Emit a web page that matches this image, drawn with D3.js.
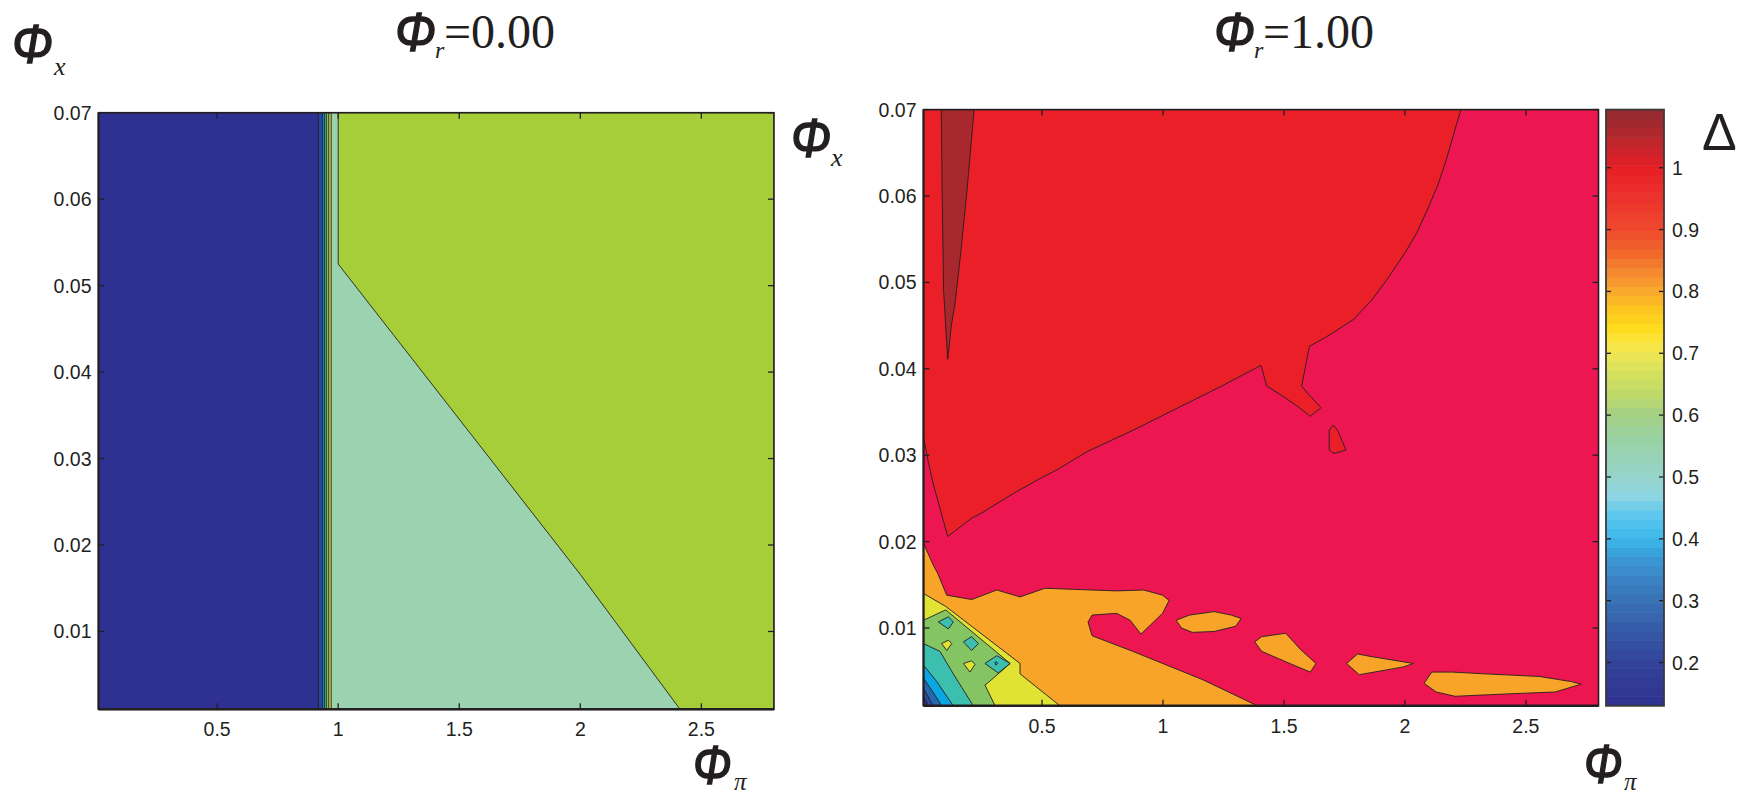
<!DOCTYPE html>
<html>
<head>
<meta charset="utf-8">
<script src="https://cdn.jsdelivr.net/npm/d3@7"></script>
<style>
  html, body { margin: 0; padding: 0; background: #fff; }
  svg { display: block; }
</style>
</head>
<body>
<svg id="chart" width="1749" height="796"></svg>
<script>
// ---- axes ----
const xDomain = [0.01, 2.8];          // phi_pi
const yDomain = [0.001, 0.07];        // phi_x
const xTickValues = [0.5, 1, 1.5, 2, 2.5];
const xTickLabels = ["0.5", "1", "1.5", "2", "2.5"];
const yTickValues = [0.01, 0.02, 0.03, 0.04, 0.05, 0.06, 0.07];
const yTickLabels = ["0.01", "0.02", "0.03", "0.04", "0.05", "0.06", "0.07"];

// ---- colour bar (Delta) ----
const cbarDomain = [0.13, 1.094];
const cbarBands = 64;
const cbarTickValues = [0.2, 0.3, 0.4, 0.5, 0.6, 0.7, 0.8, 0.9, 1];
const cbarTickLabels = ["0.2", "0.3", "0.4", "0.5", "0.6", "0.7", "0.8", "0.9", "1"];
const cmapValues = [0.13, 0.2, 0.25, 0.3, 0.33, 0.37, 0.4, 0.44, 0.47, 0.51, 0.56, 0.6, 0.63, 0.67, 0.7, 0.72, 0.74, 0.77, 0.8, 0.83, 0.86, 0.9, 0.96, 1.0, 1.03, 1.06, 1.094];
const cmapColors = ["#2e3190", "#33449a", "#3559a7", "#3972b6", "#3a80c1", "#3a99d5", "#3bb8ea", "#5ec7ee", "#8fd6e2", "#97d3c4", "#98d1a4", "#a3d084", "#bcd86b", "#d7e15c", "#efe655", "#fbe43a", "#fedc1e", "#fdc61e", "#f9a92c", "#f58a30", "#f2692b", "#ef4a2d", "#ec2e2c", "#e61e25", "#ca242b", "#aa282e", "#902a2e"];

// ---- Phi_r = 0.00 : Delta regions (phi_pi, phi_x) ----
const leftDeltas  = [0.15, 0.27, 0.40, 0.46, 0.56, 0.66, 0.52, 0.63];
const leftPalette = ["#2e3192", "#29449b", "#1aa7df", "#3cb7a9", "#7cc36a", "#cfd93a", "#9bd3b0", "#a6ce39"];
const leftRegions = [
  { delta: 0.15, pts: [[0.01, 0.001], [0.01, 0.07], [2.8, 0.07], [2.8, 0.001]] },
  { delta: 0.27, pts: [[0.918, 0.001], [0.918, 0.07], [2.8, 0.07], [2.8, 0.001]] },
  { delta: 0.40, pts: [[0.936, 0.001], [0.936, 0.07], [2.8, 0.07], [2.8, 0.001]] },
  { delta: 0.46, pts: [[0.943, 0.001], [0.943, 0.07], [2.8, 0.07], [2.8, 0.001]] },
  { delta: 0.56, pts: [[0.951, 0.001], [0.951, 0.07], [2.8, 0.07], [2.8, 0.001]] },
  { delta: 0.66, pts: [[0.961, 0.001], [0.961, 0.07], [2.8, 0.07], [2.8, 0.001]] },
  { delta: 0.52, pts: [[0.971, 0.001], [0.971, 0.07], [2.8, 0.07], [2.8, 0.001]] },
  { delta: 0.63, pts: [[1.0, 0.07], [2.8, 0.07], [2.8, 0.001], [2.412, 0.001], [2.0, 0.0166], [1.0, 0.0525]] }
];

// ---- Phi_r = 1.00 : Delta regions (phi_pi, phi_x), painted in order ----
const rightDeltas  = [0.17, 0.25, 0.35, 0.45, 0.52, 0.62, 0.71, 0.82, 0.95, 1.0, 1.07];
const rightPalette = ["#2e3192", "#2b4c9f", "#2767b0", "#0aa6e2", "#3dbfb0", "#85c462", "#e0e234", "#f7a428", "#ed1651", "#ea1f27", "#a8282e"];
const rightRegions = [
  { delta: 0.95, pts: [[0.01, 0.001], [0.01, 0.07], [2.8, 0.07], [2.8, 0.001]] },
  { delta: 1.0, pts: [[0.01, 0.0321], [0.03, 0.0292], [0.05, 0.0267], [0.11, 0.0206], [0.209, 0.0227], [0.25, 0.0233], [0.313, 0.0244], [0.395, 0.0258], [0.505, 0.0275], [0.561, 0.0283], [0.685, 0.0304], [0.877, 0.0329], [1.07, 0.0356], [1.249, 0.0381], [1.405, 0.0404], [1.429, 0.038], [1.497, 0.0368], [1.559, 0.0356], [1.608, 0.0345], [1.653, 0.0355], [1.597, 0.0372], [1.573, 0.038], [1.605, 0.0426], [1.663, 0.0435], [1.704, 0.0442], [1.787, 0.0457], [1.864, 0.0480], [1.93, 0.0505], [2.002, 0.0535], [2.05, 0.0558], [2.094, 0.0585], [2.135, 0.0612], [2.164, 0.0636], [2.195, 0.0665], [2.215, 0.0685], [2.232, 0.07], [0.01, 0.07]] },
  { delta: 1.07, pts: [[0.0836, 0.07], [0.087, 0.0607], [0.093, 0.0491], [0.11, 0.0411], [0.125, 0.045], [0.140, 0.0475], [0.165, 0.0537], [0.19, 0.0607], [0.219, 0.07]] },
  { delta: 1.0, pts: [[1.687, 0.0329], [1.704, 0.0335], [1.721, 0.0329], [1.756, 0.0306], [1.707, 0.0302], [1.687, 0.0306]] },
  { delta: 0.82, pts: [[0.01, 0.0198], [0.05, 0.0173], [0.069, 0.0163], [0.106, 0.0138], [0.209, 0.0133], [0.313, 0.0144], [0.409, 0.0136], [0.512, 0.0146], [0.808, 0.0143], [0.92, 0.0144], [0.998, 0.0138], [1.025, 0.0132], [0.998, 0.0117], [0.909, 0.0093], [0.864, 0.0109], [0.808, 0.0117], [0.707, 0.0115], [0.69, 0.0107], [0.707, 0.0091], [0.875, 0.0073], [1.166, 0.004], [1.39, 0.001], [0.01, 0.001]] },
  { delta: 0.82, pts: [[1.054, 0.0109], [1.11, 0.0115], [1.211, 0.0119], [1.282, 0.0115], [1.323, 0.0111], [1.30, 0.0102], [1.211, 0.0096], [1.121, 0.0095], [1.077, 0.010]] },
  { delta: 0.82, pts: [[1.379, 0.0084], [1.408, 0.009], [1.507, 0.0094], [1.569, 0.0075], [1.632, 0.0059], [1.609, 0.0049], [1.524, 0.0059], [1.408, 0.0073]] },
  { delta: 0.82, pts: [[1.759, 0.0059], [1.804, 0.007], [1.86, 0.0067], [2.035, 0.0059], [1.994, 0.0055], [1.811, 0.0046]] },
  { delta: 0.82, pts: [[2.079, 0.0036], [2.111, 0.0049], [2.196, 0.0049], [2.33, 0.0047], [2.554, 0.0044], [2.688, 0.0038], [2.728, 0.0035], [2.621, 0.0026], [2.442, 0.0024], [2.207, 0.0021], [2.129, 0.0026]] },
  { delta: 0.71, pts: [[0.01, 0.014], [0.102, 0.0125], [0.409, 0.0059], [0.409, 0.0047], [0.574, 0.001], [0.01, 0.001]] },
  { delta: 0.62, pts: [[0.01, 0.0109], [0.102, 0.0121], [0.368, 0.0059], [0.278, 0.0037], [0.264, 0.0034], [0.306, 0.001], [0.01, 0.001]] },
  { delta: 0.52, pts: [[0.071, 0.0107], [0.113, 0.0113], [0.133, 0.0107], [0.113, 0.0099]] },
  { delta: 0.52, pts: [[0.175, 0.0084], [0.209, 0.009], [0.237, 0.0082], [0.209, 0.0074]] },
  { delta: 0.52, pts: [[0.264, 0.0059], [0.313, 0.0068], [0.368, 0.0059], [0.319, 0.0048]] },
  { delta: 0.45, pts: [[0.305, 0.0060], [0.312, 0.0061], [0.316, 0.0059], [0.309, 0.0057]] },
  { delta: 0.71, pts: [[0.085, 0.0082], [0.113, 0.0086], [0.127, 0.0082], [0.106, 0.0074]] },
  { delta: 0.71, pts: [[0.175, 0.0059], [0.209, 0.0062], [0.223, 0.0058], [0.202, 0.0049]] },
  { delta: 0.52, pts: [[0.01, 0.0082], [0.078, 0.0073], [0.133, 0.0047], [0.216, 0.001], [0.01, 0.001]] },
  { delta: 0.45, pts: [[0.01, 0.0057], [0.065, 0.0038], [0.133, 0.001], [0.01, 0.001]] },
  { delta: 0.35, pts: [[0.01, 0.0042], [0.058, 0.0022], [0.085, 0.001], [0.01, 0.001]] },
  { delta: 0.25, pts: [[0.01, 0.003], [0.05, 0.001], [0.01, 0.001]] },
  { delta: 0.17, pts: [[0.01, 0.0021], [0.03, 0.001], [0.01, 0.001]] }
];

// ---------------------------------------------------------------
const svg = d3.select("#chart");
const ink = "#231f20";
const tickFont = "'Liberation Sans', Arial, sans-serif";

const panels = [
  { box: { x0: 98.5, x1: 774, y0: 112.7, y1: 709.3 }, regions: leftRegions,
    color: d3.scaleOrdinal(leftDeltas, leftPalette) },
  { box: { x0: 923.5, x1: 1598.5, y0: 109.6, y1: 705.8 }, regions: rightRegions,
    color: d3.scaleOrdinal(rightDeltas, rightPalette) }
];

panels.forEach((p, i) => {
  const b = p.box;
  const x = d3.scaleLinear(xDomain, [b.x0, b.x1]);
  const y = d3.scaleLinear(yDomain, [b.y1, b.y0]);
  const g = svg.append("g").attr("class", "panel-" + i);
  const clipId = "clip" + i;
  svg.append("defs").append("clipPath").attr("id", clipId)
    .append("rect").attr("x", b.x0).attr("y", b.y0)
    .attr("width", b.x1 - b.x0).attr("height", b.y1 - b.y0);

  const line = d3.line().x(d => x(d[0])).y(d => y(d[1]));
  g.append("g").attr("clip-path", `url(#${clipId})`)
    .selectAll("path").data(p.regions).join("path")
    .attr("d", d => line(d.pts) + "Z")
    .attr("fill", d => p.color(d.delta))
    .attr("stroke", ink).attr("stroke-width", 0.9)
    .attr("stroke-linejoin", "round");

  // tick marks (inside, on all four sides)
  const ticks = g.append("g").attr("stroke", ink).attr("stroke-width", 1.3);
  xTickValues.forEach(v => {
    ticks.append("line").attr("x1", x(v)).attr("x2", x(v)).attr("y1", b.y1).attr("y2", b.y1 - 6);
    ticks.append("line").attr("x1", x(v)).attr("x2", x(v)).attr("y1", b.y0).attr("y2", b.y0 + 6);
  });
  yTickValues.forEach(v => {
    ticks.append("line").attr("x1", b.x0).attr("x2", b.x0 + 6).attr("y1", y(v)).attr("y2", y(v));
    ticks.append("line").attr("x1", b.x1).attr("x2", b.x1 - 6).attr("y1", y(v)).attr("y2", y(v));
  });

  // frame
  g.append("rect").attr("x", b.x0).attr("y", b.y0)
    .attr("width", b.x1 - b.x0).attr("height", b.y1 - b.y0)
    .attr("fill", "none").attr("stroke", ink).attr("stroke-width", 1.6);
  g.append("line").attr("x1", b.x0).attr("x2", b.x1).attr("y1", b.y1).attr("y2", b.y1)
    .attr("stroke", ink).attr("stroke-width", 2.4);
  g.append("line").attr("x1", b.x0).attr("x2", b.x0).attr("y1", b.y0).attr("y2", b.y1)
    .attr("stroke", ink).attr("stroke-width", 2);

  // tick labels
  g.append("g").selectAll("text").data(xTickValues).join("text")
    .attr("x", v => x(v)).attr("y", b.y1 + 27)
    .attr("text-anchor", "middle")
    .attr("font-family", tickFont).attr("font-size", 19.5).attr("fill", ink)
    .text((v, k) => xTickLabels[k]);
  g.append("g").selectAll("text").data(yTickValues).join("text")
    .attr("x", b.x0 - 7).attr("y", v => y(v) + 7)
    .attr("text-anchor", "end")
    .attr("font-family", tickFont).attr("font-size", 19.5).attr("fill", ink)
    .text((v, k) => yTickLabels[k]);
});

// ---- colour bar ----
const cb = { x0: 1606, x1: 1664, y0: 109.6, y1: 705.8 };
const cy = d3.scaleLinear(cbarDomain, [cb.y1, cb.y0]);
const cmap = d3.scaleLinear(cmapValues, cmapColors).interpolate(d3.interpolateRgb);
const step = (cbarDomain[1] - cbarDomain[0]) / cbarBands;
const bands = d3.range(cbarBands).map(k => cbarDomain[0] + k * step);
const cbg = svg.append("g").attr("class", "colorbar");
cbg.selectAll("rect").data(bands).join("rect")
  .attr("x", cb.x0).attr("width", cb.x1 - cb.x0)
  .attr("y", v => cy(v + step) - 0.3)
  .attr("height", v => cy(v) - cy(v + step) + 0.6)
  .attr("fill", v => cmap(v + step / 2));
const cbt = cbg.append("g").attr("stroke", ink).attr("stroke-width", 1.3);
cbarTickValues.forEach(v => {
  cbt.append("line").attr("x1", cb.x0).attr("x2", cb.x0 + 5).attr("y1", cy(v)).attr("y2", cy(v));
  cbt.append("line").attr("x1", cb.x1).attr("x2", cb.x1 - 5).attr("y1", cy(v)).attr("y2", cy(v));
});
cbg.append("rect").attr("x", cb.x0).attr("y", cb.y0)
  .attr("width", cb.x1 - cb.x0).attr("height", cb.y1 - cb.y0)
  .attr("fill", "none").attr("stroke", "#3a3a3a").attr("stroke-width", 1.8);
cbg.append("g").selectAll("text").data(cbarTickValues).join("text")
  .attr("x", cb.x1 + 8).attr("y", v => cy(v) + 7)
  .attr("font-family", tickFont).attr("font-size", 19.5).attr("fill", ink)
  .text((v, k) => cbarTickLabels[k]);
svg.append("text").attr("x", 1702).attr("y", 150)
  .attr("font-family", tickFont).attr("font-size", 52).attr("fill", ink)
  .text("Δ");

// ---- symbol labels ----
const symFont = "'Liberation Sans', Arial, sans-serif";
const serif = "'Liberation Serif', 'Times New Roman', serif";
// italic capital phi, stretched a little vertically
function phi(x, y, size, sy) {
  svg.append("text")
    .attr("transform", `translate(${x},${y}) scale(1,${sy})`)
    .attr("fill", ink).attr("font-family", symFont).attr("font-style", "italic")
    .attr("font-size", size).attr("stroke", ink).attr("stroke-width", 1.3)
    .text("Φ");
}
function symbolLabel(x, y, size, sy, sub, subDx, subDy, subSize) {
  phi(x, y, size, sy);
  svg.append("text").attr("x", x + subDx).attr("y", y + subDy).attr("fill", ink)
    .attr("font-family", serif).attr("font-style", "italic").attr("font-size", subSize)
    .text(sub);
}
// phi_x labels
symbolLabel(12, 63, 49, 1.15, "x", 42, 12, 26);
symbolLabel(791, 157, 48, 1.15, "x", 40, 9, 26);
// phi_pi labels
symbolLabel(693, 784, 46, 1.2, "π", 41, 6, 25);
symbolLabel(1584, 783, 46, 1.2, "π", 40, 7, 25);

// titles
function title(x, value) {
  phi(x, 51, 49, 1.15);
  svg.append("text").attr("x", x + 40).attr("y", 58).attr("fill", ink)
    .attr("font-family", serif).attr("font-style", "italic").attr("font-size", 24).text("r");
  svg.append("text").attr("x", x + 49).attr("y", 48).attr("fill", ink)
    .attr("font-family", serif).attr("font-size", 48).text("=" + value);
}
title(395, "0.00");
title(1214, "1.00");
</script>
</body>
</html>
